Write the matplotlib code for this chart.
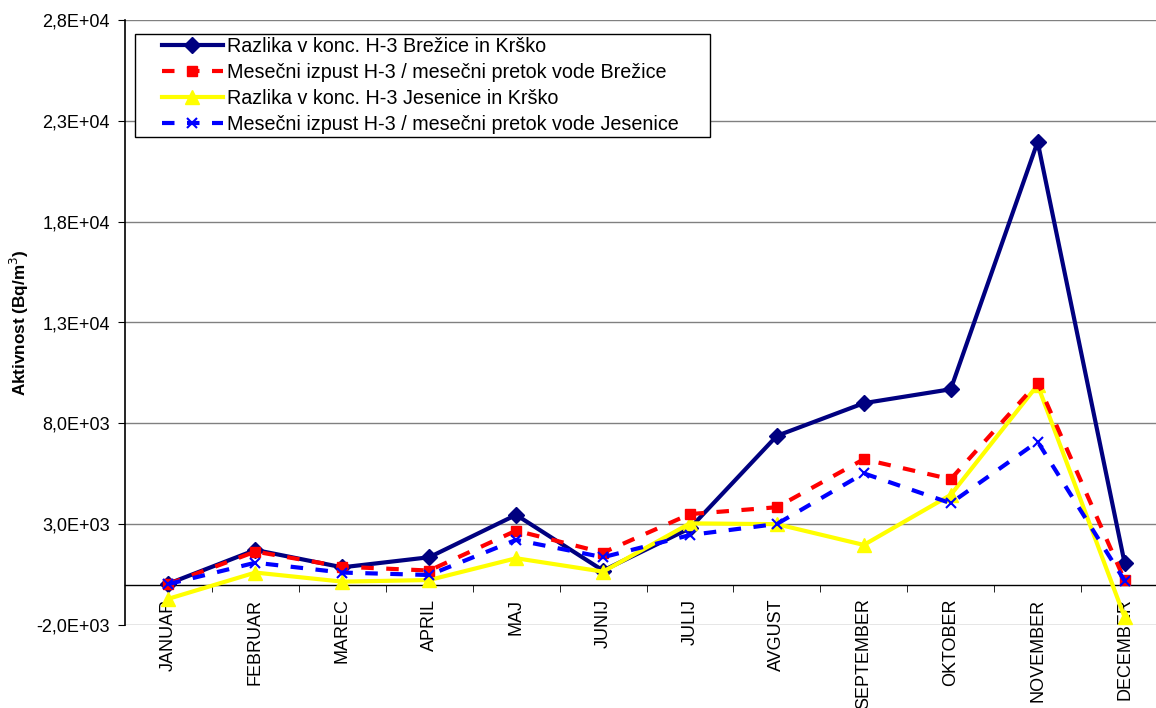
import matplotlib
matplotlib.use("Agg")
import matplotlib.pyplot as plt
import numpy as np
from matplotlib.ticker import FuncFormatter, FixedLocator
from matplotlib.legend_handler import HandlerLine2D

plt.rcParams['font.family'] = ['Liberation Sans', 'DejaVu Sans']

months = ['JANUAR', 'FEBRUAR', 'MAREC', 'APRIL', 'MAJ', 'JUNIJ', 'JULIJ',
          'AVGUST', 'SEPTEMBER', 'OKTOBER', 'NOVEMBER', 'DECEMBER']

razlika_brezice = [50, 1720, 860, 1360, 3460, 700, 2800, 7380, 9000, 9690, 21960, 1090]
izpust_brezice = [30, 1640, 890, 700, 2680, 1590, 3500, 3840, 6220, 5230, 10020, 230]
razlika_jesenice = [-700, 600, 150, 230, 1310, 645, 3040, 3000, 1970, 4450, 9900, -1600]
izpust_jesenice = [30, 1090, 600, 480, 2220, 1360, 2460, 3010, 5520, 4040, 7090, 200]

labels = ['Razlika v konc. H-3 Brežice in Krško',
          'Mesečni izpust H-3 / mesečni pretok vode Brežice',
          'Razlika v konc. H-3 Jesenice in Krško',
          'Mesečni izpust H-3 / mesečni pretok vode Jesenice']

fig = plt.figure(figsize=(11.56, 7.08), dpi=100)
ax = fig.add_axes([125 / 1156, 83 / 708, 1043 / 1156, 605 / 708])

x = np.arange(len(months))

l1, = ax.plot(x, razlika_brezice, color='#000080', lw=3, marker='D', ms=8,
              label=labels[0], zorder=3)
l2, = ax.plot(x, izpust_brezice, color='#ff0000', lw=3, ls=(0, (3, 3)), marker='s', ms=7,
              label=labels[1], zorder=4)
l3, = ax.plot(x, razlika_jesenice, color='#ffff00', lw=3, marker='^', ms=10,
              label=labels[2], zorder=3)
l4, = ax.plot(x, izpust_jesenice, color='#0000ff', lw=3, ls=(0, (3, 3)), marker='x', ms=7,
              mew=1.5, label=labels[3], zorder=5)

ax.set_xlim(-0.5, len(months) - 0.5)
ax.set_ylim(-2000, 28000)
ax.set_yticks(np.arange(-2000, 28001, 5000))
ax.yaxis.set_major_formatter(FuncFormatter(
    lambda v, p: ('%.1E' % v).replace('.', ',')))
ax.grid(axis='y', color='#808080', lw=1)
ax.set_axisbelow(True)

# category axis crosses at zero
ax.spines['bottom'].set_position(('data', 0))
ax.spines['bottom'].set_linewidth(1)
ax.spines['top'].set_visible(False)
ax.spines['right'].set_visible(False)
ax.spines['left'].set_linewidth(1.2)
ax.set_xticks(x)
ax.set_xticklabels(months, rotation=90, va='top', ha='center', fontsize=13)
ax.tick_params(axis='x', which='major', length=0, pad=10)
ax.xaxis.set_minor_locator(FixedLocator(np.arange(0.5, len(months) - 1, 1)))
ax.tick_params(axis='x', which='minor', length=5, direction='out')
ax.tick_params(axis='y', length=5, direction='out', labelsize=13, pad=6)

ax.set_ylabel('Aktivnost (Bq/m$^3$)', fontsize=12.3, fontweight='bold', labelpad=4)

hmap = {h: HandlerLine2D(numpoints=1, xpad=1.2) for h in (l1, l2, l3, l4)}
leg = ax.legend(loc='upper left',
                bbox_to_anchor=(135 / 1156, 1 - 34 / 708 - 0.01, 575 / 1156, 0.01),
                bbox_transform=fig.transFigure, mode='expand', fontsize=14.2,
                frameon=True, fancybox=False, edgecolor='black', framealpha=1,
                handlelength=4.3, handletextpad=0.2, labelspacing=0.35,
                borderpad=0.15, borderaxespad=0, handler_map=hmap)
leg.get_frame().set_linewidth(1)

fig.savefig('out.png', dpi=100)
